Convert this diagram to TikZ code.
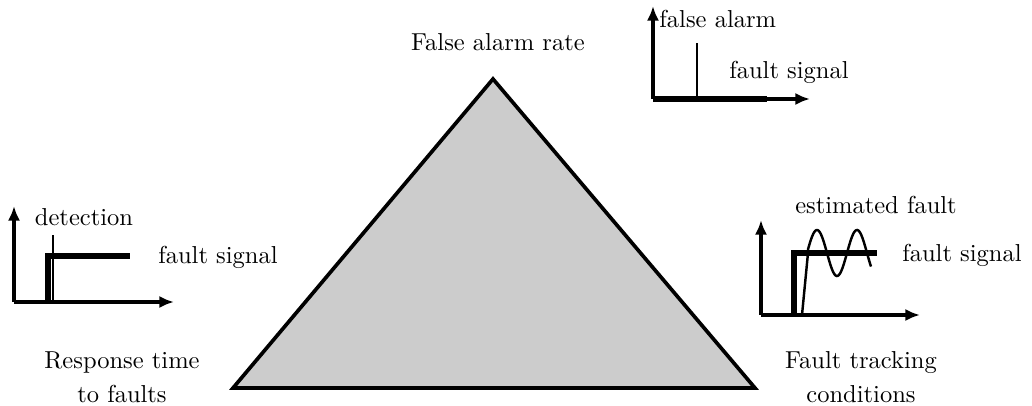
\documentclass[tikz,border=0pt]{standalone}
\usepackage{tikz}
\usetikzlibrary{positioning}
\usetikzlibrary{calc,arrows.meta}
\tikzset{
	axis/.style = {-{Latex[length=6pt,width=5pt]}, line width=1.4pt},
	fsig/.style = {line width=2.6pt, line join=miter},
	tsig/.style = {line width=1pt},
	lbl/.style = {inner sep=0pt, font=\fontsize{10}{14}\selectfont},
}
\begin{document}
\begin{tikzpicture}[x=0.408pt, y=-0.408pt]
	\useasboundingbox (0,0) rectangle (1032,406);
	% triangle
	\coordinate (apex) at (493,79);
	\coordinate (bl) at (233,388);
	\coordinate (br) at (755,388);
	\draw[fill=black!20, line width=1.5pt] (apex) -- (bl) -- (br) -- cycle;
	\node[lbl] (far) at (498,42) {False alarm rate};
	\node[lbl, align=center] (resp) at (122,377) {Response time\\to faults};
	\node[lbl, align=center] (track) at (861,377) {Fault tracking\\conditions};
	% top plot: false alarm
	\coordinate (o1) at (653,99);
	\coordinate (y1) at (653,6);
	\coordinate (x1) at (810,99);
	\coordinate (f1) at (767,99);
	\coordinate (s1) at (697,99);
	\coordinate (s1t) at (697,43);
	\draw[axis] (o1) -- (y1);
	\draw[axis] (o1) -- (x1);
	\draw[fsig] (o1) -- (f1);
	\draw[tsig] (s1) -- (s1t);
	\node[lbl, anchor=west] (fa) at (659,19) {false alarm};
	\node[lbl] (fs1) at (789,72) {fault signal};
	% left plot: detection
	\coordinate (o2) at (14,302);
	\coordinate (y2) at (14,206);
	\coordinate (x2) at (174,302);
	\coordinate (f2a) at (48,302);
	\coordinate (f2b) at (48,256);
	\coordinate (f2c) at (130,256);
	\coordinate (d2a) at (53,302);
	\coordinate (d2b) at (53,235);
	\draw[axis] (o2) -- (y2);
	\draw[axis] (o2) -- (x2);
	\draw[fsig] (f2a) -- (f2b) -- (f2c);
	\draw[tsig] (d2a) -- (d2b);
	\node[lbl] (det) at (84,217) {detection};
	\node[lbl] (fs2) at (218,257) {fault signal};
	% right plot: tracking
	\coordinate (o3) at (761,315);
	\coordinate (y3) at (761,220);
	\coordinate (x3) at (920,315);
	\coordinate (f3a) at (794,315);
	\coordinate (f3b) at (794,253);
	\coordinate (f3c) at (877,253);
	\coordinate (e3a) at (802,315);
	\coordinate (e3b) at (808,253);
	\draw[axis] (o3) -- (y3);
	\draw[axis] (o3) -- (x3);
	\draw[fsig] (f3a) -- (f3b) -- (f3c);
	\draw[tsig] (e3a) -- (e3b) -- plot[domain=808:871, samples=60, smooth] (\x, {253-23*sin(9*(\x-807))});
	\node[lbl] (est) at (876,205) {estimated fault};
	\node[lbl] (fs3) at (962,255) {fault signal};
\end{tikzpicture}
\end{document}
